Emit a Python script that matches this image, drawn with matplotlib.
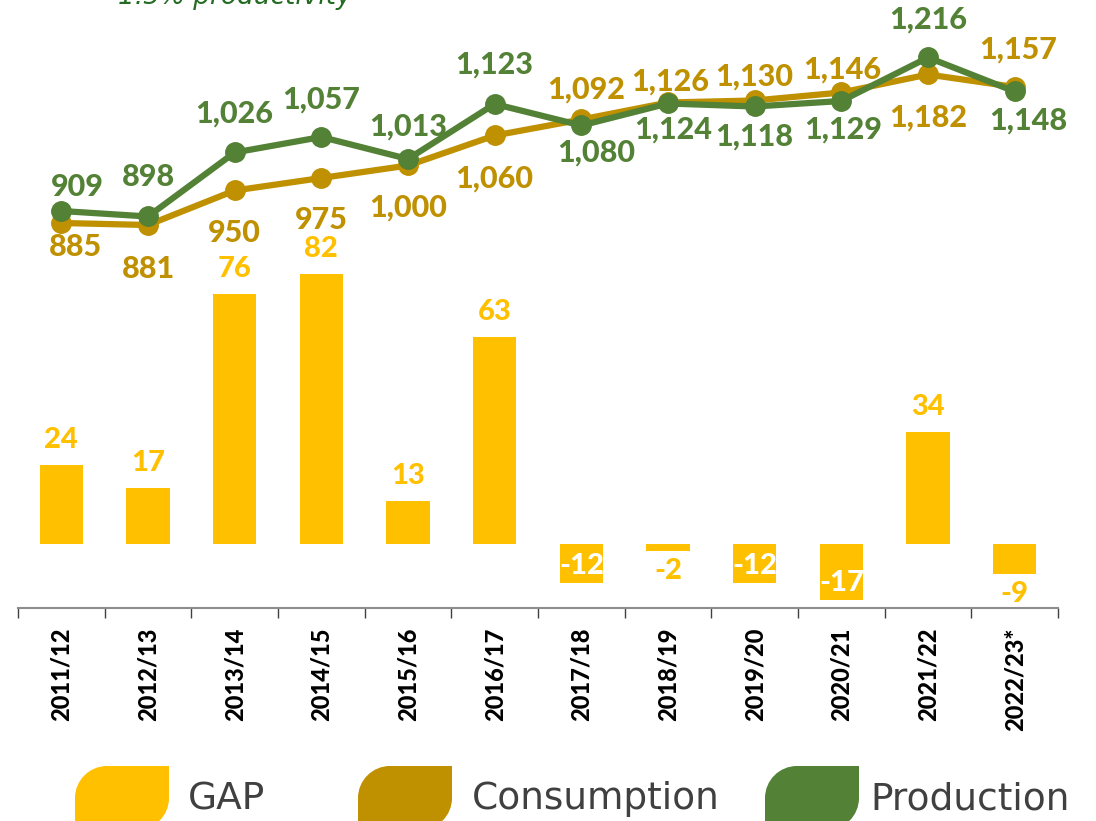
import numpy as np
import matplotlib
matplotlib.use("Agg")
import matplotlib.pyplot as plt
from matplotlib.path import Path
from matplotlib.patches import PathPatch

# ------------------------------
# Data
seasons = ["2011/12", "2012/13", "2013/14", "2014/15", "2015/16", "2016/17",
           "2017/18", "2018/19", "2019/20", "2020/21", "2021/22", "2022/23*"]
gap = [24, 17, 76, 82, 13, 63, -12, -2, -12, -17, 34, -9]
consumption = [885, 881, 950, 975, 1000, 1060, 1092, 1126, 1130, 1146, 1182, 1157]
production = [909, 898, 1026, 1057, 1013, 1123, 1080, 1124, 1118, 1129, 1216, 1148]

# ------------------------------
# Colours / fonts
c_gap = "#FFC000"
c_cons = "#BF9000"
c_prod = "#538135"
lab_font = ["Lato", "Roboto", "DejaVu Sans"]
lab_weight = "black"

W, H = 1096, 821
fig = plt.figure(figsize=(W / 100, H / 100), dpi=100)

# axes placed in pixel terms: x spine 18..1058, bottom spine at y=608
ax = fig.add_axes([18 / W, (H - 608) / H, (1058 - 18) / W, 608 / H])
ax2 = ax.twinx()
ax.set_zorder(1)
ax2.set_zorder(2)
ax2.patch.set_visible(False)

x = np.arange(len(seasons))

# bars (GAP)
ax.bar(x, gap, width=0.5, color=c_gap, zorder=2)
ax.set_ylim(-19.45, 165.3)
ax.set_xlim(-0.5, len(seasons) - 0.5)

# lines
ax2.plot(x, consumption, color=c_cons, lw=4.5, marker="o", ms=14, zorder=3)
ax2.plot(x, production, color=c_prod, lw=4.5, marker="o", ms=14, zorder=4)
ax2.set_ylim(115, 1331)

# spines / ticks
for a in (ax, ax2):
    for s in ["top", "right", "left"]:
        a.spines[s].set_visible(False)
    a.set_yticks([])
ax2.spines["bottom"].set_visible(False)
ax.spines["bottom"].set_color("#8c8c8c")
ax.spines["bottom"].set_linewidth(1.5)

ax.set_xticks(np.arange(-0.5, len(seasons)), labels=[])
ax.tick_params(axis="x", which="major", length=7, width=1, color="#404040")
ax.set_xticks(x, labels=seasons, minor=True)
ax.tick_params(axis="x", which="minor", length=0, pad=14)
for t in ax.get_xticklabels(minor=True):
    t.set_rotation(90)
    t.set_fontfamily(lab_font)
    t.set_fontweight(lab_weight)
    t.set_fontsize(17)
    t.set_color("black")

# ------------------------------
# Data labels (offsets in pixels)
prod_off = [(16, 24), (0, 40), (0, 39), (0, 37), (0, 32), (0, 39),
            (15, -27), (5, -26), (0, -30), (2, -29), (0, 38), (14, -29)]
cons_off = [(14, -24), (0, -44), (0, -43), (0, -42), (0, -42), (0, -43),
            (5, 30), (2, 21), (0, 24), (1, 23), (0, -43), (3, 37)]

for i in range(len(seasons)):
    ax2.annotate(f"{production[i]:,}", (x[i], production[i]), xytext=prod_off[i],
                 textcoords="offset pixels", ha="center", va="center",
                 color=c_prod, fontsize=22, fontweight=lab_weight, family=lab_font, zorder=5)
    ax2.annotate(f"{consumption[i]:,}", (x[i], consumption[i]), xytext=cons_off[i],
                 textcoords="offset pixels", ha="center", va="center",
                 color=c_cons, fontsize=22, fontweight=lab_weight, family=lab_font, zorder=5)

for i, g in enumerate(gap):
    if g >= 0:
        off, col = (0, 25), c_gap
    elif g <= -10:
        off, col = (0, 17), "white"
    else:
        off, col = (0, -20), c_gap
    ax.annotate(f"{g}", (x[i], g), xytext=off, textcoords="offset pixels",
                ha="center", va="center", color=col, fontsize=21,
                fontweight=lab_weight, family=lab_font, zorder=5)

# ------------------------------
# Overlay for note text and legend (pixel coordinates)
ov = fig.add_axes([0, 0, 1, 1])
ov.set_xlim(0, W)
ov.set_ylim(H, 0)
ov.axis("off")
ov.set_zorder(10)

ov.text(118, 4, "1.5% productivity", fontsize=19, style="italic",
        color="#236B23", ha="left", va="baseline")


def leaf(x0, y0, w, h, r):
    k = 0.5523 * r
    verts = [(x0, y0 + h), (x0, y0 + r),
             (x0, y0 + r - k), (x0 + r - k, y0), (x0 + r, y0),
             (x0 + w, y0), (x0 + w, y0 + h - r),
             (x0 + w, y0 + h - r + k), (x0 + w - r + k, y0 + h), (x0 + w - r, y0 + h),
             (x0, y0 + h)]
    codes = [Path.MOVETO, Path.LINETO,
             Path.CURVE4, Path.CURVE4, Path.CURVE4,
             Path.LINETO, Path.LINETO,
             Path.CURVE4, Path.CURVE4, Path.CURVE4,
             Path.CLOSEPOLY]
    return Path(verts, codes)


legend_items = [("GAP", c_gap, 75, 188), ("Consumption", c_cons, 358, 472),
                ("Production", c_prod, 765, 870)]
for name, col, px, tx in legend_items:
    ov.add_patch(PathPatch(leaf(px, 766, 94, 64, 32), facecolor=col, edgecolor="none"))
    ov.text(tx, 809, name, fontsize=27, color="#404040", ha="left", va="baseline")

fig.savefig("out.png", dpi=100)
